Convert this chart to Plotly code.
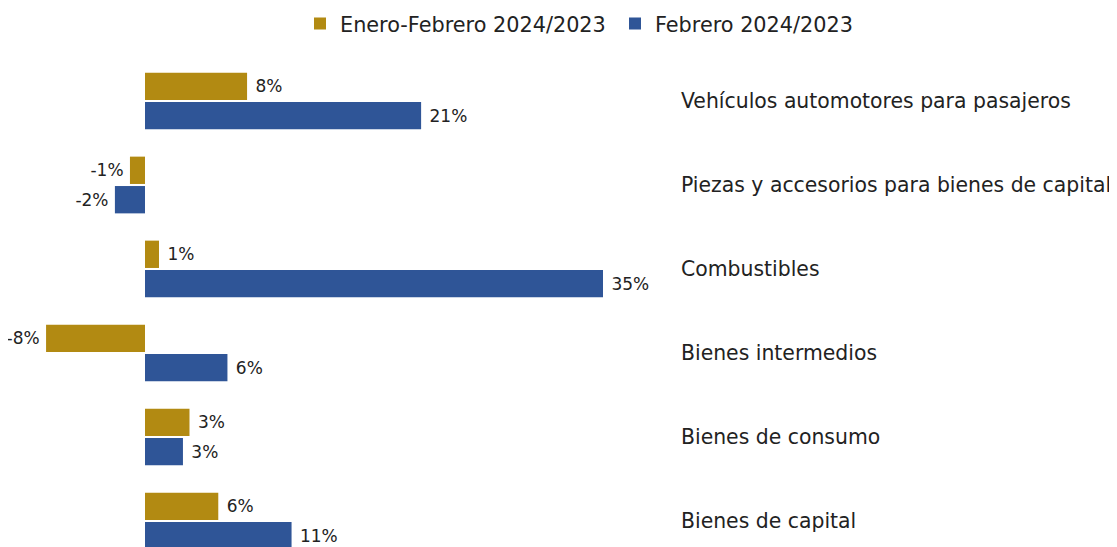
import plotly.graph_objects as go

categories = ["Vehículos automotores para pasajeros",
              "Piezas y accesorios para bienes de capital",
              "Combustibles",
              "Bienes intermedios",
              "Bienes de consumo",
              "Bienes de capital"]
ene_feb = [7.8, -1.15, 1.07, -7.56, 3.4, 5.6]
febrero = [21.1, -2.3, 35.0, 6.3, 2.9, 11.2]
series_names = ["Enero-Febrero 2024/2023", "Febrero 2024/2023"]
colors = ["#B28A12", "#2F5597"]
legend_ids = ["legend", "legend2"]


def labels(vals):
    return [f" {v:.0f}%" if v >= 0 else f"{v:.0f}%\u2009" for v in vals]


fig = go.Figure()
for name, vals, col, lg in zip(series_names, [ene_feb, febrero], colors, legend_ids):
    fig.add_trace(go.Bar(
        y=categories, x=vals, name=name, orientation="h",
        marker=dict(color=col, line=dict(width=0)),
        text=labels(vals), textposition="outside", cliponaxis=False,
        textfont=dict(size=17, color="#222222", family="DejaVu Sans"),
        legend=lg,
    ))

# page body adds an 8px offset; figure coordinates below are window - 8
zero_px, p35_px, right_px = 137, 595, 664
px_per = (p35_px - zero_px) / 35.0
leg_common = dict(orientation="h", xanchor="left", xref="container",
                  y=1 - 16 / 547, yanchor="middle", yref="container",
                  font=dict(size=20.8, color="#222222"), itemwidth=30)
fig.update_layout(
    width=1117, height=547,
    margin=dict(l=0, r=1117 - right_px, t=51, b=0, autoexpand=False),
    barmode="group", bargap=0.3, bargroupgap=0.07,
    plot_bgcolor="white", paper_bgcolor="white",
    font=dict(family="DejaVu Sans", size=18, color="#222222"),
    showlegend=True,
    legend=dict(x=292 / 1117, **leg_common),
    legend2=dict(x=607 / 1117, **leg_common),
)
fig.update_xaxes(range=[-zero_px / px_per, (right_px - zero_px) / px_per], visible=False,
                 showgrid=False, zeroline=False)
fig.update_yaxes(categoryorder="array", categoryarray=categories,
                 range=[5 + (547 - 513) / 84, -0.5], side="right", showgrid=False,
                 zeroline=False, showline=False, ticks="", ticklabelstandoff=8,
                 tickfont=dict(size=20.4, color="#222222"))
fig.write_html("out.html")
